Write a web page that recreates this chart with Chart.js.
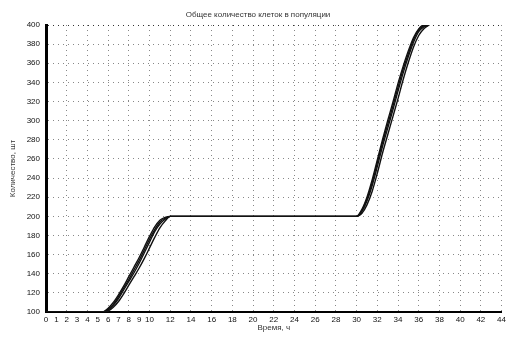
<!DOCTYPE html>
<html>
<head>
<meta charset="utf-8">
<script src="https://cdn.jsdelivr.net/npm/chart.js@4"></script>
<style>
  html, body { margin: 0; padding: 0; background: #fff; }
  #chart { display: block; }
</style>
</head>
<body>
<canvas id="chart" width="509" height="340"></canvas>
<script>
// hours of the simulation, shared by every run
const hours = [0, 5.5, 6, 6.5, 7, 7.5, 8, 8.5, 9, 9.5, 10, 10.5, 11, 11.5, 12,
  30, 30.5, 31, 31.5, 32, 32.5, 33, 33.5, 34, 34.5, 35, 35.5, 36, 36.5, 37];

// several runs overlap into one thick band on the scan
const runA = [100, 100, 102, 107, 114, 123, 132, 141, 151, 162, 173, 184, 192, 197, 200,
  200, 205, 216, 232, 252, 273, 292, 311, 331, 350, 367, 382, 393, 398, 400];
const runB = [100, 100, 104, 110, 118, 127, 137, 147, 157, 168, 179, 189, 196, 199, 200,
  200, 207, 220, 238, 259, 280, 300, 319, 339, 357, 373, 387, 396, 400, 400];
const runC = [100, 100, 101, 105, 111, 119, 128, 137, 146, 156, 167, 178, 188, 195, 200,
  200, 203, 212, 226, 245, 266, 285, 304, 323, 343, 361, 377, 389, 396, 400];
const runD = [100, 100, 103, 108, 116, 125, 134, 144, 154, 165, 176, 186, 194, 198, 200,
  200, 206, 218, 235, 256, 277, 296, 315, 335, 354, 370, 385, 395, 399, 400];

const xTickValues = [0, 1, 2, 3, 4, 5, 6, 7, 8, 9, 10, 12, 14, 16, 18, 20, 22, 24, 26,
  28, 30, 32, 34, 36, 38, 40, 42, 44];

const FONT = "'Liberation Sans', Arial, sans-serif";

function lineDataset(values) {
  return {
    data: hours.map((h, i) => ({ x: h, y: values[i] })),
    borderColor: "#111",
    borderWidth: 1.4,
    pointRadius: 0,
    fill: false,
    cubicInterpolationMode: "monotone",
  };
}

new Chart(document.getElementById("chart"), {
  type: "line",
  data: { datasets: [runA, runB, runC, runD].map(lineDataset) },
  options: {
    responsive: false,
    animation: false,
    layout: { padding: { left: 12, right: 5, top: 0, bottom: 0 } },
    plugins: {
      legend: { display: false },
      tooltip: { enabled: false },
      title: {
        display: true,
        text: "Общее количество клеток в популяции",
        color: "#333",
        font: { family: FONT, size: 8, weight: "normal" },
        padding: { top: 10, bottom: 5.4 },
      },
    },
    scales: {
      x: {
        type: "linear",
        min: 0,
        max: 44,
        afterBuildTicks: (axis) => { axis.ticks = xTickValues.map((v) => ({ value: v })); },
        afterFit: (axis) => { axis.height = 28; },
        ticks: { color: "#111", font: { family: FONT, size: 8 }, padding: 3, maxRotation: 0, autoSkip: false },
        grid: {
          drawTicks: false,
          lineWidth: 1,
          color: (ctx) => (ctx.tick && ctx.tick.value % 2 === 0 ? "#888" : "rgba(0,0,0,0)"),
        },
        border: { display: true, color: "#000", width: 2, dash: [1, 4] },
        title: {
          display: true,
          text: "Время, ч",
          color: "#333",
          font: { family: FONT, size: 8 },
          padding: { top: 0, bottom: 7 },
        },
      },
      y: {
        min: 100,
        max: 400,
        afterFit: (axis) => { axis.width = 34; },
        ticks: { stepSize: 20, color: "#111", font: { family: FONT, size: 8 }, padding: 6 },
        grid: {
          drawTicks: false,
          lineWidth: 1,
          color: (ctx) => (ctx.tick && ctx.tick.value === 400 ? "#333" : "#888"),
        },
        border: { display: true, color: "#000", width: 3, dash: [1, 4] },
        title: {
          display: true,
          text: "Количество, шт",
          color: "#333",
          font: { family: FONT, size: 8 },
          padding: { top: -4, bottom: 0 },
        },
      },
    },
  },
});
</script>
</body>
</html>
